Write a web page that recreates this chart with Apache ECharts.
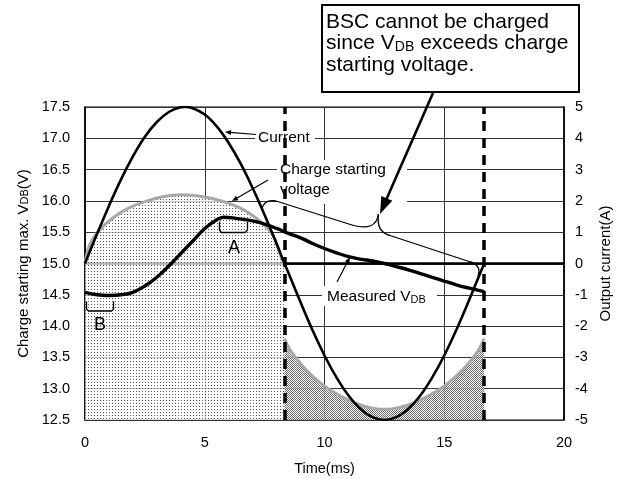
<!DOCTYPE html>
<html><head><meta charset="utf-8">
<script src="https://cdn.jsdelivr.net/npm/echarts@6/dist/echarts.min.js"></script>
<style>html,body{margin:0;padding:0;background:#fff}#c{width:628px;height:479px}</style>
</head><body><div id="c"></div>
<script>
// ---- data ----
const xTicks = [0, 5, 10, 15, 20];
const leftTicks = [12.5, 13.0, 13.5, 14.0, 14.5, 15.0, 15.5, 16.0, 16.5, 17.0, 17.5];
const rightTicks = [-5, -4, -3, -2, -1, 0, 1, 2, 3, 4, 5];

const currentTime = [0,0.5,1,1.5,2,2.5,3,3.5,4,4.17,4.5,5,5.5,6,6.5,7,7.5,8,8.33,8.5,9,9.5,10,10.5,11,11.5,12,12.5,13,13.5,14,14.5,15,15.5,16,16.5,16.67];
const currentA = [0,0.94,1.84,2.68,3.42,4.05,4.52,4.84,4.99,5,4.96,4.76,4.38,3.85,3.19,2.41,1.55,0.63,0,-0.31,-1.24,-2.13,-2.94,-3.64,-4.22,-4.65,-4.91,-5,-4.91,-4.65,-4.22,-3.64,-2.94,-2.13,-1.24,-0.31,0];

const vdbTime = [0,0.5,1,1.5,2,2.5,3,3.5,4,4.5,5,5.5,5.8,6.3,7,7.5,8,8.5,9,9.5,10,10.5,11,11.5,12,12.5,13,13.5,14,14.5,15,15.5,16,16.67];
const vdbV = [14.54,14.50,14.49,14.50,14.54,14.64,14.78,14.96,15.16,15.36,15.56,15.70,15.74,15.72,15.68,15.63,15.56,15.48,15.41,15.32,15.24,15.17,15.11,15.07,15.04,15.00,14.95,14.90,14.84,14.78,14.72,14.66,14.61,14.55];

const chargeTimeA = [0,0.2,0.6,1.2,1.9,2.6,3.3,4,4.7,5.4,6.1,6.8,7.45,7.85,8.1,8.33];
const chargeA = [15.0,15.30,15.53,15.74,15.90,16.0,16.07,16.10,16.08,16.03,15.95,15.82,15.63,15.45,15.2,14.95];

const chargeTimeB = [8.33,8.55,9,9.5,10,10.5,11,11.5,12,12.5,13,13.5,14,14.5,15,15.5,16,16.4,16.67];
const chargeB = [13.80,13.63,13.40,13.20,13.04,12.92,12.82,12.74,12.69,12.67,12.69,12.74,12.82,12.92,13.04,13.20,13.40,13.60,13.80];

const halfCycleMarks = [8.33, 16.67];
const zeroCurrentLevel = 15.0;

// ---- helpers ----
const zip = (a, b) => a.map((v, i) => [v, b[i]]);
function makePattern(size, dots, dotColor, bg) {
  const c = document.createElement('canvas');
  c.width = size; c.height = size;
  const g = c.getContext('2d');
  g.fillStyle = bg; g.fillRect(0, 0, size, size);
  g.fillStyle = dotColor;
  dots.forEach(d => g.fillRect(d[0], d[1], 1, 1));
  return c;
}
const FONT = '"Liberation Sans", Arial, sans-serif';
function arrow(x1, y1, x2, y2, w, hl, hw, z) {
  const dx = x2 - x1, dy = y2 - y1, L = Math.hypot(dx, dy), ux = dx / L, uy = dy / L;
  const bx = x2 - ux * hl, by = y2 - uy * hl;
  return [
    {type: 'line', z: z, shape: {x1: x1, y1: y1, x2: bx + ux, y2: by + uy}, style: {stroke: '#000', lineWidth: w}},
    {type: 'polygon', z: z, shape: {points: [[x2, y2], [bx + uy * hw, by - ux * hw], [bx - uy * hw, by + ux * hw]]}, style: {fill: '#000'}}
  ];
}
const thin = {stroke: '#000', lineWidth: 1.3, fill: null};

const chart = echarts.init(document.getElementById('c'), null, {renderer: 'canvas'});
const dotPattern = makePattern(3, [[1, 1]], '#555', 'rgba(255,255,255,0.72)');
const checkPattern = makePattern(2, [[0, 0], [1, 1]], '#6a6a6a', 'rgba(255,255,255,0.72)');

const graphics = [
  // callout box
  {type: 'rect', z: 20, shape: {x: 322, y: 5, width: 257, height: 87}, style: {fill: '#fff', stroke: '#000', lineWidth: 2}},
  {type: 'text', z: 21, x: 326, y: 11, style: {
    text: 'BSC cannot be charged\nsince V{s|DB} exceeds charge\nstarting voltage.',
    fontFamily: FONT, fontSize: 21, lineHeight: 21.7, fill: '#000', verticalAlign: 'top',
    rich: {s: {fontSize: 14, fontFamily: FONT, fill: '#000', verticalAlign: 'bottom', lineHeight: 14}}
  }},
  ...arrow(433, 93, 380, 214, 2.6, 17, 6, 22),
  // brace
  {type: 'bezierCurve', z: 15, shape: {x1: 262, y1: 209, cpx1: 264, cpy1: 199, x2: 276, y2: 201}, style: thin},
  {type: 'line', z: 15, shape: {x1: 276, y1: 201, x2: 352, y2: 225}, style: thin},
  {type: 'bezierCurve', z: 15, shape: {x1: 352, y1: 225, cpx1: 376, cpy1: 232, x2: 378.5, y2: 214}, style: thin},
  {type: 'bezierCurve', z: 15, shape: {x1: 378.5, y1: 214, cpx1: 376, cpy1: 232, x2: 390, y2: 235.5}, style: thin},
  {type: 'line', z: 15, shape: {x1: 390, y1: 235.5, x2: 469, y2: 261.5}, style: thin},
  {type: 'bezierCurve', z: 15, shape: {x1: 469, y1: 261.5, cpx1: 482, cpy1: 265, x2: 478, y2: 276}, style: thin},
  // white masks behind labels
  {type: 'rect', z: 1, shape: {x: 255, y: 130, width: 60, height: 15}, style: {fill: '#fff'}},
  {type: 'rect', z: 1, shape: {x: 277, y: 160, width: 130, height: 44}, style: {fill: '#fff'}},
  {type: 'rect', z: 1, shape: {x: 322, y: 286, width: 115, height: 20}, style: {fill: '#fff'}},
  // labels
  {type: 'text', z: 15, x: 258, y: 138, style: {text: 'Current', fontFamily: FONT, fontSize: 15.5, fill: '#000', verticalAlign: 'middle'}},
  ...arrow(256, 134.5, 225, 132, 1.2, 6, 2.5, 15),
  {type: 'text', z: 15, x: 280, y: 160, style: {text: 'Charge starting\nvoltage', fontFamily: FONT, fontSize: 15.5, lineHeight: 20, fill: '#000', verticalAlign: 'top'}},
  ...arrow(268, 180, 232, 201, 1.2, 6, 2.5, 15),
  {type: 'text', z: 15, x: 327, y: 297, style: {
    text: 'Measured V{s|DB}', fontFamily: FONT, fontSize: 15.5, fill: '#000', verticalAlign: 'middle',
    rich: {s: {fontSize: 11, fontFamily: FONT, fill: '#000', verticalAlign: 'bottom', lineHeight: 10}}
  }},
  ...arrow(337, 282, 350, 257, 1.2, 6, 2.5, 15),
  // A bracket
  {type: 'polyline', z: 15, shape: {points: [[219.5, 221.5], [219.5, 230], [221.5, 232.5], [245, 232.5], [247.5, 230], [247.5, 222]]}, style: thin},
  {type: 'text', z: 15, x: 234, y: 248, style: {text: 'A', fontFamily: FONT, fontSize: 18, fill: '#000', align: 'center', verticalAlign: 'middle'}},
  // B bracket
  {type: 'polyline', z: 15, shape: {points: [[86.5, 301.5], [86.5, 309], [88.5, 311], [111.5, 311], [113.5, 309], [113.5, 301.5]]}, style: thin},
  {type: 'text', z: 15, x: 100, y: 325, style: {text: 'B', fontFamily: FONT, fontSize: 18, fill: '#000', align: 'center', verticalAlign: 'middle'}}
];

const option = {
  animation: false,
  backgroundColor: '#fff',
  grid: {left: 85, right: 64, top: 107, bottom: 59, containLabel: false, outerBoundsMode: 'none',
    show: true, borderColor: '#000', borderWidth: 1.2, backgroundColor: 'transparent'},
  xAxis: {
    type: 'value', min: xTicks[0], max: xTicks[xTicks.length - 1], interval: xTicks[1] - xTicks[0],
    name: 'Time(ms)', nameLocation: 'middle', nameGap: 41,
    nameTextStyle: {fontFamily: FONT, fontSize: 14.5, color: '#000'},
    axisLine: {lineStyle: {color: '#000', width: 1.5}},
    axisTick: {show: false},
    axisLabel: {fontFamily: FONT, fontSize: 14.5, color: '#000', margin: 15},
    splitLine: {show: true, lineStyle: {color: '#333', width: 1}}
  },
  yAxis: [{
    type: 'value', min: leftTicks[0], max: leftTicks[leftTicks.length - 1], interval: leftTicks[1] - leftTicks[0],
    name: 'Charge starting max. V{s|DB}(V)', nameLocation: 'middle', nameGap: 52, nameRotate: 90,
    nameTextStyle: {fontFamily: FONT, fontSize: 15, color: '#000',
      rich: {s: {fontFamily: FONT, fontSize: 11, color: '#000', verticalAlign: 'bottom', lineHeight: 11}}},
    axisLine: {show: true, lineStyle: {color: '#000', width: 1.5}},
    axisTick: {show: false},
    axisLabel: {fontFamily: FONT, fontSize: 14.5, color: '#000', margin: 15, formatter: v => v.toFixed(1)},
    splitLine: {show: true, lineStyle: {color: '#333', width: 1}}
  }, {
    type: 'value', position: 'right', min: rightTicks[0], max: rightTicks[rightTicks.length - 1], interval: rightTicks[1] - rightTicks[0],
    name: 'Output current(A)', nameLocation: 'middle', nameGap: 26, nameRotate: 90,
    nameTextStyle: {fontFamily: FONT, fontSize: 15, color: '#000'},
    axisLine: {show: true, lineStyle: {color: '#000', width: 1.5}},
    axisTick: {show: false},
    axisLabel: {fontFamily: FONT, fontSize: 14.5, color: '#000', margin: 11},
    splitLine: {show: false}
  }],
  series: [
    {type: 'line', data: [], silent: true,
      markLine: {silent: true, z: 1, symbol: 'none', label: {show: false}, lineStyle: {color: '#000', width: 2.5, type: 'solid'},
        data: [{yAxis: zeroCurrentLevel}]}},
    {type: 'line', name: 'Charge starting voltage A', data: zip(chargeTimeA, chargeA), smooth: 0.4, showSymbol: false,
      lineStyle: {color: '#a8a8a8', width: 3}, areaStyle: {color: {image: dotPattern, repeat: 'repeat'}, opacity: 1, origin: 'start'}},
    {type: 'line', name: 'Charge starting voltage B', data: zip(chargeTimeB, chargeB), smooth: 0.4, showSymbol: false,
      lineStyle: {color: '#a8a8a8', width: 3}, areaStyle: {color: {image: checkPattern, repeat: 'repeat'}, opacity: 1, origin: 'start'}},
    {type: 'line', name: 'Current', yAxisIndex: 1, data: zip(currentTime, currentA), smooth: 0.4, showSymbol: false,
      lineStyle: {color: '#000', width: 2.6}},
    {type: 'line', name: 'Measured VDB', data: zip(vdbTime, vdbV), smooth: 0.4, showSymbol: false,
      lineStyle: {color: '#000', width: 3.4},
      markLine: {silent: true, symbol: 'none', label: {show: false}, lineStyle: {color: '#000', width: 3.5, type: [10, 7]},
        data: halfCycleMarks.map(v => ({xAxis: v}))}}
  ],
  graphic: graphics
};
chart.setOption(option);
</script></body></html>
